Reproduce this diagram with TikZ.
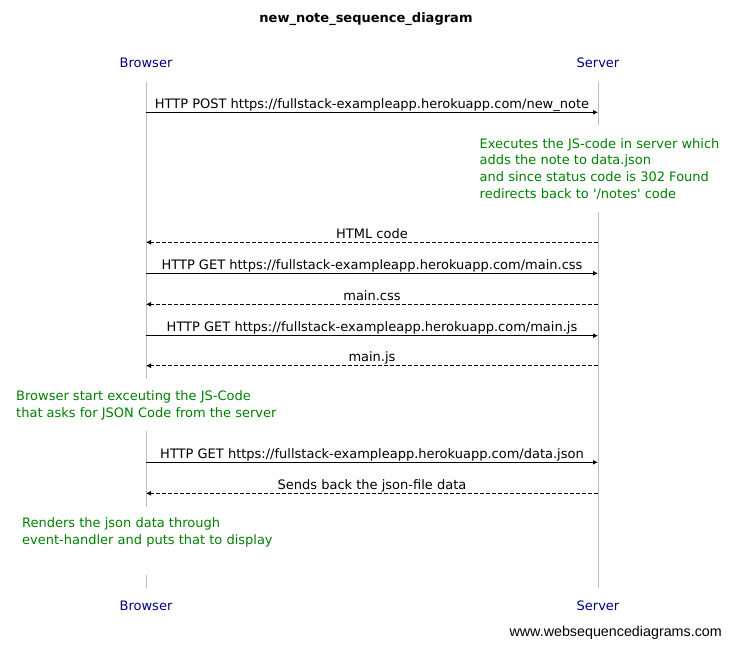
\documentclass[tikz,border=0pt]{standalone}
\usepackage{fontspec}
\setmainfont{DejaVu Sans}
\newfontfamily\footfont{Liberation Sans}
\usetikzlibrary{arrows.meta}
\definecolor{actorblue}{RGB}{0,0,128}
\definecolor{notegreen}{RGB}{0,128,0}
\definecolor{lifegray}{RGB}{190,190,190}

\begin{document}
\begin{tikzpicture}[x=1pt,y=-1pt,font=\fontsize{13}{16.8}\selectfont,
	actor/.style={text=actorblue},
	msg/.style={-{Latex[length=5pt,width=5pt]},line width=1pt},
	reply/.style={msg,dash pattern=on 4pt off 2pt},
	lbl/.style={anchor=base,yshift=4pt,inner sep=0pt},
	note/.style={text=notegreen,align=left,anchor=north west,inner sep=0pt},
	life/.style={draw=lifegray,line width=1pt}]
\useasboundingbox (0,0) rectangle (731,647);

\node[font=\fontsize{13}{16}\bfseries] (title) at (366,19) {new\_note\_sequence\_diagram};
\node[actor] (browser) at (146,63) {Browser};
\node[actor] (server) at (598,63) {Server};
\node[actor] (browser2) at (146,606) {Browser};
\node[actor] (server2) at (598,606) {Server};

% lifelines
\foreach \n/\y in {1/82,2/379,3/431,4/507,5/575,6/588}
	\coordinate (bl\n) at (146,\y);
\foreach \n/\y in {1/82,2/125,3/212,4/588}
	\coordinate (sl\n) at (598,\y);
\foreach \x/\y in {bl1/bl2,bl3/bl4,bl5/bl6,sl1/sl2,sl3/sl4}
	\draw[life](\x)--(\y);

% message rows
\foreach \n/\y in {1/112.3,2/242.3,3/273.3,4/304.3,5/335.7,6/365.7,7/462.3,8/493.3}{
	\coordinate (b\n) at (146,\y);
	\coordinate (s\n) at (598,\y);
}

\draw[msg] (b1) -- node[lbl] {HTTP POST https://fullstack-exampleapp.herokuapp.com/new\_note} (s1);
\node[note] (exec) at (479.5,138.1) {Executes the JS-code in server which\\adds the note to data.json\\and since status code is 302 Found\\redirects back to \textquotesingle/notes\textquotesingle{} code};
\draw[reply] (s2) -- node[lbl] {HTML code} (b2);
\draw[msg] (b3) -- node[lbl] {HTTP GET https://fullstack-exampleapp.herokuapp.com/main.css} (s3);
\draw[reply] (s4) -- node[lbl] {main.css} (b4);
\draw[msg] (b5) -- node[lbl] {HTTP GET https://fullstack-exampleapp.herokuapp.com/main.js} (s5);
\draw[reply] (s6) -- node[lbl] {main.js} (b6);
\node[note] (start) at (16,390.8) {Browser start exceuting the JS-Code\\that asks for JSON Code from the server};
\draw[msg] (b7) -- node[lbl] {HTTP GET https://fullstack-exampleapp.herokuapp.com/data.json} (s7);
\draw[reply] (s8) -- node[lbl] {Sends back the json-file data} (b8);
\node[note] (render) at (22,517.8) {Renders the json data through\\event-handler and puts that to display};

\node[font=\footfont\fontsize{14.3}{16}\selectfont,anchor=base east,inner sep=0pt] (wsd) at (722,636.7) {www.websequencediagrams.com};
\end{tikzpicture}
\end{document}
